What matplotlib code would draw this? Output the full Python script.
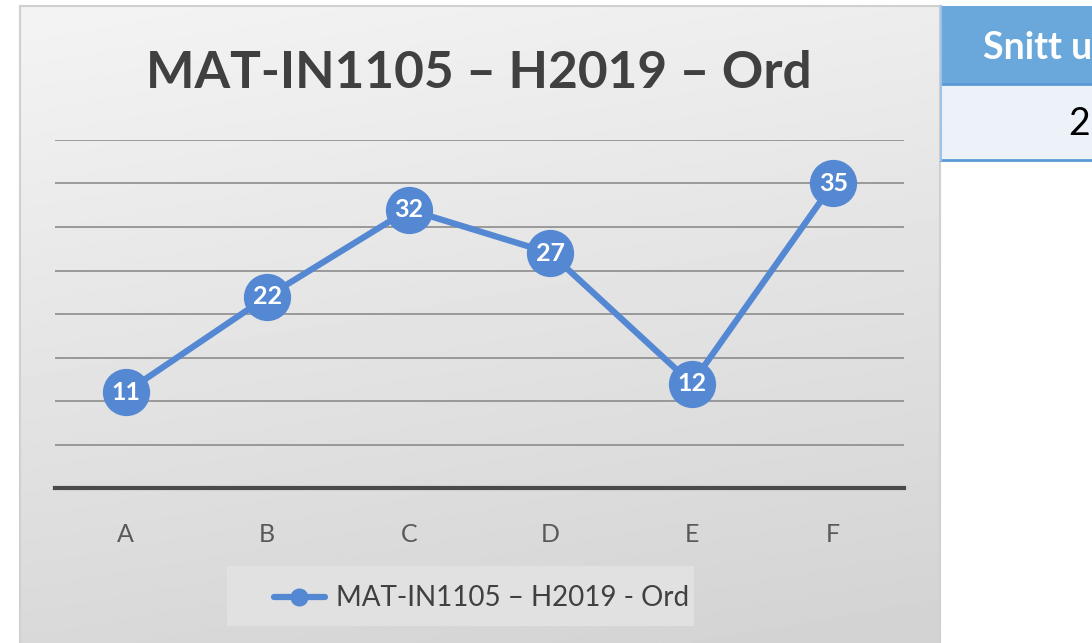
import matplotlib.pyplot as plt
import numpy as np
from matplotlib.patches import Rectangle

# data
categories = ["A", "B", "C", "D", "E", "F"]
values = [11, 22, 32, 27, 12, 35]
title = "MAT-IN1105 – H2019 – Ord"
series_name = "MAT-IN1105 – H2019 - Ord"
table_header = "Snitt u"
table_value = "2"

W, H = 1092, 643
fig = plt.figure(figsize=(W / 100, H / 100), dpi=100)
fig.patch.set_facecolor("white")

def fx(px):
    return px / W

def fy(py):
    return 1 - py / H

plt.rcParams["font.family"] = ["Lato", "DejaVu Sans"]

# chart background with gradient
bg = fig.add_axes([fx(20), 0, fx(920), fy(6)])
grad = np.linspace(0, 1, 256).reshape(-1, 1)
xs = np.linspace(0, 1, 256).reshape(1, -1)
g = 0.955 - 0.13 * (0.8 * grad + 0.2 * xs)
bg.imshow(g, cmap="gray", vmin=0, vmax=1, aspect="auto", extent=[0, 1, 0, 1], origin="upper")
bg.set_xlim(0, 1)
bg.set_ylim(0, 1)
bg.set_xticks([])
bg.set_yticks([])
for s in bg.spines.values():
    s.set_color("#d0d0d0")
    s.set_linewidth(1.5)
bg.spines["bottom"].set_visible(False)

fig.text(fx(479), fy(74), title, ha="center", va="center", fontsize=37,
         fontweight="bold", color="#404040")

# plot area
ax = fig.add_axes([fx(55), fy(488), fx(904 - 55), fy(140) - fy(488)])
ax.patch.set_alpha(0)
x = np.arange(len(categories))
ax.set_xlim(-0.5, len(categories) - 0.5)
ax.set_ylim(0, 40)
for yv in range(5, 41, 5):
    ax.axhline(yv, color="#8c8c8c", lw=1.2, zorder=1)
ax.axhline(0, color="#4a4a4a", lw=3, zorder=2, clip_on=False)
ax.plot(x, values, color="#5588d3", lw=4.5, marker="o", markersize=33,
        markerfacecolor="#5588d3", markeredgecolor="#5588d3", zorder=3,
        label=series_name)
for xi, v in zip(x, values):
    ax.text(xi, v, str(v), ha="center", va="center", color="white",
            fontsize=18, fontweight="bold", zorder=4)
ax.set_yticks([])
ax.set_xticks(x)
ax.set_xticklabels(categories, fontsize=18, color="#595959")
ax.tick_params(axis="x", length=0, pad=25)
for s in ax.spines.values():
    s.set_visible(False)

# legend box
fig.patches.append(Rectangle((fx(227), fy(626)), fx(694 - 227), fy(566) - fy(626),
                             transform=fig.transFigure, facecolor="#e1e1e1",
                             edgecolor="none", zorder=1))
fig.lines.append(plt.Line2D([fx(274), fx(325)], [fy(597), fy(597)],
                            transform=fig.transFigure, color="#5588d3", lw=4.5,
                            solid_capstyle="round"))
fig.lines.append(plt.Line2D([fx(299)], [fy(597)], transform=fig.transFigure,
                            marker="o", markersize=12, color="#5588d3"))
fig.text(fx(336), fy(598), series_name, ha="left", va="center", fontsize=20,
         color="#404040")

# table fragment at right
fig.patches.append(Rectangle((fx(941), fy(84)), fx(W - 941), fy(6) - fy(84),
                             transform=fig.transFigure, facecolor="#6aa7db",
                             edgecolor="none"))
fig.patches.append(Rectangle((fx(941), fy(160)), fx(W - 941), fy(84) - fy(160),
                             transform=fig.transFigure, facecolor="#edf2f9",
                             edgecolor="none"))
for yy in [84, 160]:
    fig.lines.append(plt.Line2D([fx(941), 1], [fy(yy), fy(yy)],
                                transform=fig.transFigure, color="#5b9bd5", lw=2))
fig.lines.append(plt.Line2D([fx(941), fx(941)], [fy(6), fy(160)],
                            transform=fig.transFigure, color="#9dc3e6", lw=1.5))
fig.text(fx(983), fy(48), table_header, ha="left", va="center", fontsize=27,
         fontweight="bold", color="white")
fig.text(fx(1068), fy(124), table_value, ha="left", va="center", fontsize=27,
         color="black")

fig.savefig("out.png", dpi=100)
